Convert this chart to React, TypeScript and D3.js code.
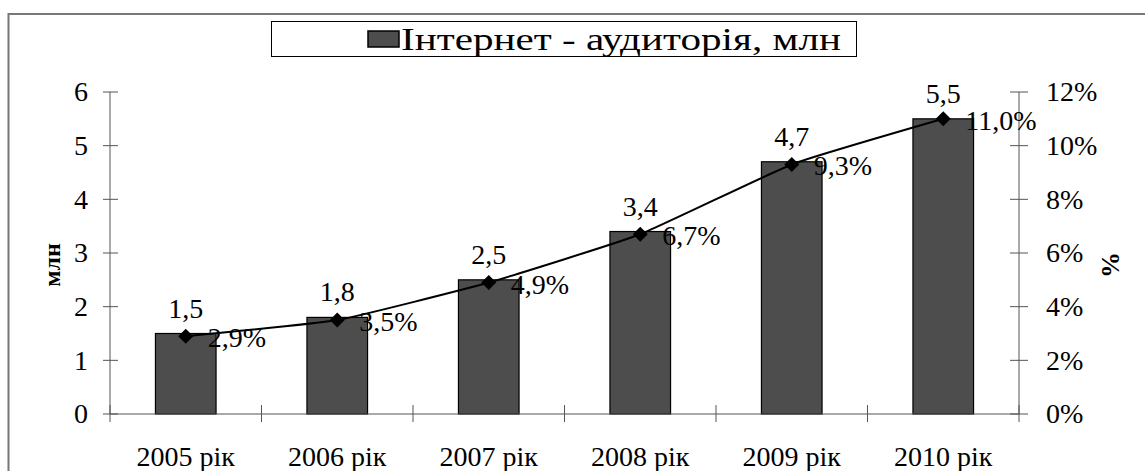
import React from "react";
import * as d3 from "d3";

const categories = ["2005 рік", "2006 рік", "2007 рік", "2008 рік", "2009 рік", "2010 рік"];
const audience = [1.5, 1.8, 2.5, 3.4, 4.7, 5.5];
const share = [0.029, 0.035, 0.049, 0.067, 0.093, 0.11];
const leftTicks = [0, 1, 2, 3, 4, 5, 6];
const rightTicks = [0, 0.02, 0.04, 0.06, 0.08, 0.1, 0.12];
const seriesName = "Інтернет - аудиторія, млн";

const W = 1145;
const H = 471;
const FONT = "Liberation Serif";

export default function App() {
  const x0 = 110, x1 = 1019, yTop = 92, yBot = 414;
  const x = d3.scaleBand<string>().domain(categories).range([x0, x1]).padding(0);
  const yL = d3.scaleLinear().domain([0, 6]).range([yBot, yTop]);
  const yR = d3.scaleLinear().domain([0, 0.12]).range([yBot, yTop]);
  const bw = x.bandwidth() * 0.4;
  const cx = (c: string) => (x(c) as number) + x.bandwidth() / 2;
  const fmt = (v: number) => v.toFixed(1).replace(".", ",");
  const fmtP = (v: number) => (v * 100).toFixed(1).replace(".", ",") + "%";
  const fmtT = (v: number) => Math.round(v * 100) + "%";

  const line = d3
    .line<number>()
    .x((_, i) => cx(categories[i]))
    .y((d) => yR(d))
    .curve(d3.curveCardinal.tension(0.6));

  const axisColor = "#555";
  const boundaries = categories.map((c) => x(c) as number).concat([x1]);
  const txt = { fontFamily: FONT } as React.CSSProperties;

  return (
    <svg
      width={W}
      height={H}
      style={{ position: "absolute", left: 0, top: 0, background: "#fff", fontFamily: FONT }}
    >
      <rect x={0} y={0} width={W} height={H} fill="#fff" />
      <rect x={8.5} y={14} width={W + 20} height={H + 20} fill="none" stroke="#777" strokeWidth={2} />

      <rect x={271.5} y={21.5} width={585} height={35} fill="#fff" stroke="#000" strokeWidth={1} />
      <rect x={368} y={31} width={31} height={16} fill="#4d4d4d" stroke="#000" strokeWidth={1.5} />
      <text x={401} y={50} fontSize={32} style={txt} textLength={440} lengthAdjust="spacingAndGlyphs">{seriesName}</text>

      {categories.map((c, i) => (
        <rect
          key={c}
          x={cx(c) - bw / 2}
          y={yL(audience[i])}
          width={bw}
          height={yBot - yL(audience[i])}
          fill="#4d4d4d"
          stroke="#000"
          strokeWidth={1.2}
        />
      ))}

      <line x1={x0} x2={x0} y1={yTop} y2={yBot} stroke={axisColor} />
      <line x1={x1} x2={x1} y1={yTop} y2={yBot} stroke={axisColor} />
      <line x1={x0} x2={x1} y1={yBot} y2={yBot} stroke={axisColor} />
      {leftTicks.map((t) => (
        <g key={"l" + t}>
          <line x1={103} x2={118} y1={yL(t)} y2={yL(t)} stroke={axisColor} />
          <text x={88} y={yL(t)} dy="0.33em" textAnchor="end" fontSize={28} style={txt}>{t}</text>
        </g>
      ))}
      {rightTicks.map((t) => (
        <g key={"r" + t}>
          <line x1={1010} x2={1028} y1={yR(t)} y2={yR(t)} stroke={axisColor} />
          <text x={1046} y={yR(t)} dy="0.33em" textAnchor="start" fontSize={28} style={txt}>{fmtT(t)}</text>
        </g>
      ))}
      {boundaries.map((b, i) => (
        <line key={"xb" + i} x1={b} x2={b} y1={405} y2={422} stroke={axisColor} />
      ))}
      {categories.map((c) => (
        <text key={"xl" + c} x={cx(c)} y={466} textAnchor="middle" fontSize={28} style={txt}>{c}</text>
      ))}

      <text
        transform="translate(60,265) rotate(-90)"
        textAnchor="middle"
        fontSize={24}
        fontWeight="bold"
        style={txt}
      >
        млн
      </text>
      <text
        transform="translate(1119,265) rotate(-90)"
        textAnchor="middle"
        fontSize={26}
        fontWeight="bold"
        style={txt}
      >
        %
      </text>

      {categories.map((c, i) => (
        <text key={"bl" + c} x={cx(c)} y={yL(audience[i]) - 16} textAnchor="middle" fontSize={28} style={txt}>
          {fmt(audience[i])}
        </text>
      ))}

      <path d={line(share) || ""} fill="none" stroke="#000" strokeWidth={2} />
      {categories.map((c, i) => {
        const px = cx(c);
        const py = yR(share[i]);
        const s = 7.5;
        return (
          <path
            key={"m" + c}
            d={`M${px},${py - s}L${px + s},${py}L${px},${py + s}L${px - s},${py}Z`}
            fill="#000"
          />
        );
      })}
      {categories.map((c, i) => (
        <text key={"pl" + c} x={cx(c) + 22} y={yR(share[i]) + 11} textAnchor="start" fontSize={28} style={txt}>
          {fmtP(share[i])}
        </text>
      ))}
    </svg>
  );
}
